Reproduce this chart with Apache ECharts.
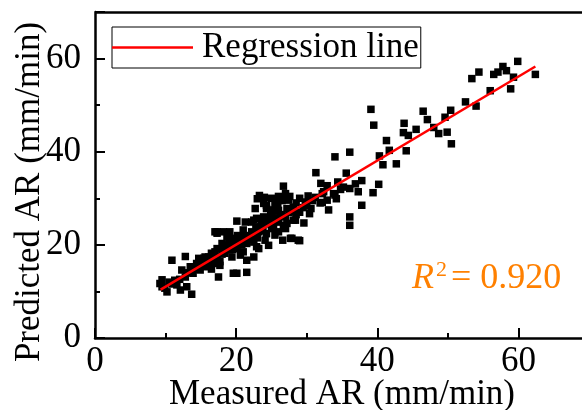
<!DOCTYPE html>
<html>
<head>
<meta charset="utf-8">
<script src="https://cdn.jsdelivr.net/npm/echarts@6/dist/echarts.min.js"></script>
<style>
html,body{margin:0;padding:0;background:#fff;}
#chart{width:582px;height:410px;}
</style>
</head>
<body>
<div id="chart"></div>
<script>
// Measured AR (x) and Predicted AR (y)
const measuredAR = [
52.5,54.0,53.4,54.4,56.0,56.5,57.1,57.8,58.3,59.3,58.9,59.9,62.4,
50.4,49.6,49.9,50.5,48.7,48.0,47.1,46.5,45.5,44.4,43.7,43.8,44.1,42.7,41.3,41.7,40.3,40.8,39.5,39.1,
36.1,34.0,35.6,31.3,40.2,39.4,37.8,37.3,37.8,36.9,36.1,35.2,34.4,34.8,34.0,32.9,32.4,32.9,33.1,32.2,36.1,36.1,
26.7,32.0,32.2,33.8,34.2,31.9,30.6,30.4,29.6,27.6,28.1,28.4,27.2,27.7,29.0,26.6,26.0,25.3,24.8,
23.0,23.9,22.7,24.3,25.5,26.0,24.9,23.9,22.9,22.2,22.2,23.2,24.1,22.9,24.6,27.4,27.2,22.5,21.3,20.1,21.0,
23.6,25.8,26.7,28.1,27.9,28.8,25.5,24.3,17.3,18.2,18.9,19.6,20.6,21.5,22.5,23.2,22.5,21.0,20.1,19.1,18.2,17.0,
16.1,15.4,17.3,19.4,20.6,21.5,17.7,19.6,20.1,21.5,17.5,26.2,25.1,27.0,24.3,25.9,
9.2,9.5,9.9,10.2,10.9,11.3,11.6,12.1,12.3,12.8,12.8,13.0,13.5,13.7,13.9,14.4,14.7,14.9,15.6,15.8,16.5,16.8,
17.3,17.7,18.0,18.4,18.7,19.4,19.1,17.0,17.3,
15.0,16.0,16.5,18.5,19.0,19.8,20.2,20.8,21.2,21.8,22.0,22.8,23.5,23.8,24.5,25.0,25.5,26.0,26.5,27.0,27.5,28.0,
28.5,29.0,29.5,30.0,30.8,31.2,25.0,24.0,23.0,21.0,20.0,19.5,18.0,17.0,16.0,14.0,13.0,12.0,11.0,10.5,9.5,
23.3,24.0,25.0,26.0,26.5,27.0,28.5,29.0,29.8,30.2
];
const predictedAR = [
50.7,49.8,55.7,57.1,53.1,56.6,57.1,58.3,57.4,56.0,53.5,59.4,56.6,
48.9,47.4,44.2,41.7,43.9,45.2,46.9,48.7,44.8,43.5,44.1,46.1,40.2,37.4,42.4,40.3,39.1,37.2,45.7,49.1,
39.9,38.9,35.4,35.5,33.0,31.2,28.5,31.4,33.8,33.1,32.1,32.4,33.5,31.9,30.7,32.7,31.4,29.6,27.5,29.1,26.0,24.2,
32.6,33.2,31.0,31.0,29.9,29.0,27.8,26.7,24.7,30.4,28.1,25.3,24.6,21.4,20.9,21.0,22.8,24.0,24.9,
29.9,28.9,27.8,27.8,28.9,27.4,26.7,26.0,25.7,24.9,22.8,22.8,21.0,19.6,19.9,29.6,27.8,25.3,24.9,25.1,23.2,
25.3,24.9,24.2,25.3,21.4,21.0,22.1,22.4,22.8,22.8,22.1,21.4,21.4,20.3,20.6,19.2,17.4,18.5,19.2,18.9,18.9,18.5,
17.4,17.1,16.7,17.4,17.8,16.7,15.6,13.9,13.9,14.1,13.1,26.4,26.4,23.5,28.5,28.9,
11.7,12.5,10.7,9.9,16.7,12.4,11.4,10.3,14.6,17.5,13.1,11.0,15.3,9.4,13.9,16.0,17.1,14.6,17.4,15.3,18.2,16.0,
19.2,16.4,20.3,18.2,21.7,19.6,22.8,22.8,22.5,
15.8,16.5,14.8,20.0,20.5,20.8,22.0,20.0,21.8,22.0,21.2,23.8,24.0,23.0,25.5,23.5,25.8,25.0,26.5,26.0,27.0,27.2,
26.5,27.0,28.0,28.5,29.5,30.2,27.5,24.5,21.5,20.5,20.0,19.0,18.0,17.5,15.6,14.8,14.0,12.6,11.6,12.0,11.0,
30.6,30.2,30.0,30.4,29.5,31.0,29.0,30.0,29.2,30.5
];
// Regression line end points
const regressionX = [9.3, 62.4];
const regressionY = [10.4, 58.3];
// Axis ticks
const majorTicks = [0, 20, 40, 60];
const axisMin = 0, axisMax = 70;
const r2Value = '0.920';

const FONT = "'Liberation Serif','Times New Roman',serif";
const ORANGE = '#ff8000';
const chart = echarts.init(document.getElementById('chart'));
const scatterData = measuredAR.map((x, i) => [x, predictedAR[i]]);
const lineData = regressionX.map((x, i) => [x, regressionY[i]]);

const axisCommon = {
  type: 'value', min: axisMin, max: axisMax, interval: majorTicks[1] - majorTicks[0],
  axisLine: { show: true, onZero: false, lineStyle: { color: '#000', width: 2.5 } },
  axisTick: { show: true, inside: true, length: 10, lineStyle: { color: '#000', width: 2 } },
  minorTick: { show: true, splitNumber: 2, length: 5, lineStyle: { color: '#000', width: 2 } },
  splitLine: { show: false },
  minorSplitLine: { show: false },
  axisLabel: { show: true, color: '#000', fontSize: 35, fontFamily: FONT, showMaxLabel: false },
  nameLocation: 'middle',
  nameMoveOverlap: false,
  nameTextStyle: { color: '#000', fontSize: 35, fontFamily: FONT }
};

chart.setOption({
  animation: false,
  backgroundColor: '#fff',
  grid: { left: 95, top: 12, right: -7, bottom: 72, show: false, containLabel: false, outerBoundsMode: 'none' },
  legend: {
    left: 112, top: 27,
    data: [{ name: 'Regression line', icon: 'rect' }],
    borderColor: '#000', borderWidth: 1,
    padding: [3, 2, 3, 0],
    itemWidth: 81, itemHeight: 2.5,
    itemStyle: { color: '#ff0000' },
    textStyle: { color: '#000', fontSize: 35, fontFamily: FONT, padding: [0, 0, 0, 4] }
  },
  xAxis: Object.assign({}, axisCommon, {
    position: 'bottom', name: 'Measured AR (mm/min)', nameGap: 39,
    axisLabel: Object.assign({}, axisCommon.axisLabel, { margin: 6 })
  }),
  yAxis: Object.assign({}, axisCommon, {
    position: 'left', name: 'Predicted AR (mm/min)', nameGap: 48,
    axisLabel: Object.assign({}, axisCommon.axisLabel, { margin: 14 }),
    nameTextStyle: Object.assign({}, axisCommon.nameTextStyle, { padding: [0, 34, 0, 0] })
  }),
  series: [
    {
      type: 'scatter', name: 'Measured vs Predicted', data: scatterData,
      symbol: 'rect', symbolSize: 7.5, itemStyle: { color: '#000', opacity: 1 }, z: 2
    },
    {
      type: 'line', name: 'Regression line', data: lineData,
      symbol: 'none', lineStyle: { color: '#ff0000', width: 2.5 }, itemStyle: { color: '#ff0000' }, z: 3,
      markLine: {
        silent: true, symbol: ['none', 'none'], animation: false,
        label: { show: false },
        lineStyle: { color: '#000', width: 2.5, type: 'solid' },
        emphasis: { disabled: true },
        data: [{ yAxis: axisMax }]
      }
    }
  ],
  graphic: [
    { type: 'text', x: 412, y: 279, z: 10,
      style: { text: 'R', fill: ORANGE, font: 'italic 36px ' + FONT, verticalAlign: 'middle', align: 'left' } },
    { type: 'text', x: 436, y: 270, z: 10,
      style: { text: '2', fill: ORANGE, font: '22px ' + FONT, verticalAlign: 'middle', align: 'left' } },
    { type: 'text', x: 451, y: 279, z: 10,
      style: { text: '= ' + r2Value, fill: ORANGE, font: '36px ' + FONT, verticalAlign: 'middle', align: 'left' } }
  ]
});
</script>
</body>
</html>
